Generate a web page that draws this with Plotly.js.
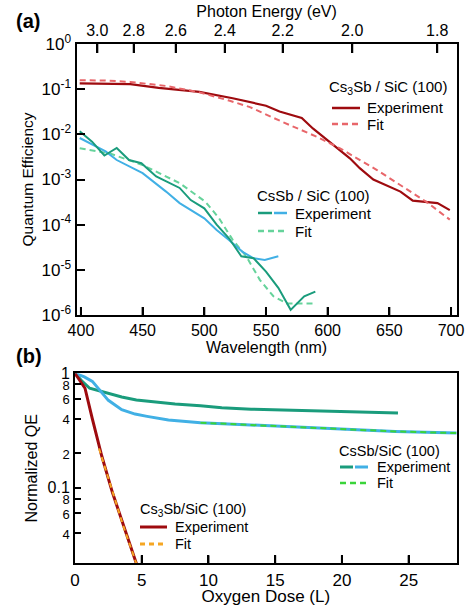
<!DOCTYPE html>
<html>
<head>
<meta charset="utf-8">
<script src="https://cdn.plot.ly/plotly-3.0.1.min.js"></script>
<style>html,body{margin:0;padding:0;background:#fff;}#chart{width:466px;height:606px;}</style>
</head>
<body>
<div id="chart"></div>
<script>
// ---------- Panel (a): QE vs wavelength ----------
const wlCs3SbExp = [399,440,463,496,523,550,561,579,588,604,618,626,637,659,669,689,699];
const qeCs3SbExp = [0.135,0.129,0.107,0.087,0.063,0.043,0.032,0.023,0.0135,0.0059,0.00295,0.00178,0.00100,0.00054,0.00034,0.00030,0.00021];
const wlCs3SbFit = [399,420,440,470,496,520,537,563,591,610,640,660,680,699];
const qeCs3SbFit = [0.158,0.155,0.145,0.117,0.085,0.056,0.040,0.019,0.0089,0.0049,0.00162,0.00071,0.00032,0.000129];

const wlCsSbExpA = [399,409,419,429,439,449,461,470,480,489,500,510,520,530,540,550,560,570,581,590];
const qeCsSbExpA = [0.0117,0.0069,0.0034,0.0050,0.0027,0.0023,0.00117,0.00087,0.00065,0.00035,0.00023,0.00010,0.000050,0.000020,0.000018,0.0000091,0.0000040,0.0000013,0.0000026,0.0000033];
const wlCsSbExpB = [399,420,429,450,469,480,500,510,520,531,540,549,560];
const qeCsSbExpB = [0.0083,0.0042,0.0027,0.00138,0.00054,0.00030,0.000138,0.000076,0.000046,0.000025,0.000018,0.0000166,0.000020];
const wlCsSbFit = [399,423,450,480,501,512,523,534,545,556,567,589];
const qeCsSbFit = [0.0049,0.0038,0.0021,0.00083,0.00032,0.000138,0.000046,0.000020,0.0000060,0.0000026,0.0000018,0.0000018];

const wlTicks = [400,450,500,550,600,650,700];
const energyTicks = [3.0,2.8,2.6,2.4,2.2,2.0,1.8];
const energyLabels = ['3.0','2.8','2.6','2.4','2.2','2.0','1.8'];
const qeTickVals = [1e-6,1e-5,1e-4,1e-3,1e-2,1e-1,1];
const qeTickText = ['10<sup>-6</sup>','10<sup>-5</sup>','10<sup>-4</sup>','10<sup>-3</sup>','10<sup>-2</sup>','10<sup>-1</sup>','10<sup>0</sup>'];

// ---------- Panel (b): normalized QE vs oxygen dose ----------
const doseCs3SbExp = [0,0.75,1.3,2.0,2.8,3.6,4.7];
const nqeCs3SbExp = [1,0.74,0.40,0.19,0.091,0.047,0.020];
const doseCs3SbFit = [1.8,2.8,3.6,4.7];
const nqeCs3SbFit = [0.22,0.091,0.047,0.020];

const doseCsSbA = [0,0.5,1.1,1.8,2.6,3.5,4.6,6,7.5,9.4,11,13.2,16,20,24.2];
const nqeCsSbA = [1,0.86,0.74,0.70,0.665,0.62,0.585,0.56,0.54,0.52,0.50,0.485,0.475,0.46,0.45];
const doseCsSbB = [0,0.7,1.3,2.0,2.5,3.5,4.5,5.4,7,9.4,13,17,20,24,28.6];
const nqeCsSbB = [1,0.93,0.85,0.68,0.58,0.48,0.44,0.42,0.39,0.37,0.355,0.34,0.325,0.31,0.30];
const doseCsSbFit = [9.4,13,17,20,24,28.6];
const nqeCsSbFit = [0.37,0.355,0.34,0.325,0.31,0.30];

const doseTicks = [0,5,10,15,20,25];
const nqeTickVals = [1,0.8,0.6,0.4,0.2,0.1,0.08,0.06,0.04];
const nqeTickText = ['1','<span style="font-size:13px">8</span>','<span style="font-size:13px">6</span>','<span style="font-size:13px">4</span>','<span style="font-size:13px">2</span>','0.1','<span style="font-size:13px">8</span>','<span style="font-size:13px">6</span>','<span style="font-size:13px">4</span>'];
const nqeMinor = [0.9,0.7,0.5,0.3,0.09,0.07,0.05,0.03];

// ---------- styles ----------
const C = {
  darkred:'#9e0b0f', salmon:'#e8666a', teal:'#1a9c7c', blue:'#41b0e5',
  lightgreen:'#66d39b', green:'#3ad43a', orange:'#f5a623'
};
const W = 466, H = 606;
const px = x => x / W, py = y => 1 - y / H;

const qeMinor = [];
for (let e = -6; e < 0; e++) for (let m = 2; m <= 9; m++) qeMinor.push(m * Math.pow(10, e));

const traces = [
  {x: wlCs3SbExp, y: qeCs3SbExp, xaxis:'x', yaxis:'y', mode:'lines', line:{color:C.darkred, width:2.2}},
  {x: wlCs3SbFit, y: qeCs3SbFit, xaxis:'x', yaxis:'y', mode:'lines', line:{color:C.salmon, width:2, dash:'6px,4px'}},
  {x: wlCsSbFit, y: qeCsSbFit, xaxis:'x', yaxis:'y', mode:'lines', line:{color:C.lightgreen, width:2, dash:'6px,4px'}},
  {x: wlCsSbExpB, y: qeCsSbExpB, xaxis:'x', yaxis:'y', mode:'lines', line:{color:C.blue, width:2}},
  {x: wlCsSbExpA, y: qeCsSbExpA, xaxis:'x', yaxis:'y', mode:'lines', line:{color:C.teal, width:2}},
  {x: [wlTicks[0]], y: [qeTickVals[3]], xaxis:'x2', yaxis:'y', mode:'markers', marker:{opacity:0}, hoverinfo:'skip'},

  {x: doseCsSbA, y: nqeCsSbA, xaxis:'x3', yaxis:'y3', mode:'lines', line:{color:C.teal, width:3}},
  {x: doseCsSbB, y: nqeCsSbB, xaxis:'x3', yaxis:'y3', mode:'lines', line:{color:C.blue, width:3}},
  {x: doseCsSbFit, y: nqeCsSbFit, xaxis:'x3', yaxis:'y3', mode:'lines', line:{color:C.green, width:2, dash:'6px,4px'}},
  {x: doseCs3SbExp, y: nqeCs3SbExp, xaxis:'x3', yaxis:'y3', mode:'lines', line:{color:C.darkred, width:3}},
  {x: doseCs3SbFit, y: nqeCs3SbFit, xaxis:'x3', yaxis:'y3', mode:'lines', line:{color:C.orange, width:2, dash:'5px,4px'}}
];

const axBase = {showgrid:false, zeroline:false, showline:true, linewidth:2, linecolor:'black',
  ticks:'inside', tickcolor:'black', tickwidth:2};

// plot-area sizes in px (for converting tick lengths into axis-domain fractions)
const aW = 456.7 - 76.5, aH = 315 - 44, bW = 456.7 - 75, bH = 563.3 - 373.3;
const xRangeA = [396.4, 704.6];
const yRangeB = [Math.log10(0.0218), 0];
const layout = {
  width: W, height: H,
  margin:{l:0, r:0, t:0, b:0},
  showlegend:false,
  font:{family:'Liberation Sans', color:'black', size:16},
  xaxis: Object.assign({}, axBase, {
    domain:[px(76.5), px(456.7)], anchor:'y', range:xRangeA,
    tickmode:'array', tickvals:wlTicks, ticklen:8, mirror:true,
    tickfont:{size:16}, title:{text:'Wavelength (nm)', font:{size:16}, standoff:4}
  }),
  xaxis2: Object.assign({}, axBase, {
    overlaying:'x', side:'top', anchor:'y', range:xRangeA,
    tickmode:'array', tickvals: energyTicks.map(e => 1239.84 / e), ticktext: energyLabels,
    ticklen:9, tickfont:{size:16}, title:{text:'Photon Energy (eV)', font:{size:16}, standoff:0}
  }),
  yaxis: Object.assign({}, axBase, {
    domain:[py(315), py(44)], anchor:'x', type:'log', range:[-6, 0],
    tickmode:'array', tickvals:qeTickVals, ticktext:qeTickText, ticklen:8, mirror:true,
    tickfont:{size:17},
    title:{text:'Quantum Efficiency', font:{size:15.5}, standoff:4}
  }),
  xaxis3: Object.assign({}, axBase, {
    domain:[px(75), px(456.7)], anchor:'y3', range:[0, 28.6],
    tickmode:'array', tickvals:doseTicks, ticklen:8, mirror:true,
    tickfont:{size:17}, title:{text:'Oxygen Dose (L)', font:{size:17}, standoff:1}
  }),
  yaxis3: Object.assign({}, axBase, {
    domain:[py(563.3), py(373.3)], anchor:'x3', type:'log', range:yRangeB,
    tickmode:'array', tickvals:nqeTickVals, ticktext:nqeTickText, ticklen:6, mirror:true,
    tickfont:{size:16},
    title:{text:'Normalized QE', font:{size:16}, standoff:6}
  }),
  annotations: [],
  shapes: []
};

// ---- inward tick marks, placed through the axes' own scales ----
function xTick(xref, yref, v, lenPx, hPx, top, w) {
  const f = lenPx / hPx;
  layout.shapes.push({type:'line', xref:xref, yref:yref + ' domain', x0:v, x1:v,
    y0: top ? 1 : 0, y1: top ? 1 - f : f, line:{color:'black', width:w}});
}
function yTickLog(xref, yref, v, lenPx, wPx, w) {
  const f = lenPx / wPx, lv = Math.log10(v);
  layout.shapes.push({type:'line', xref:xref + ' domain', yref:yref, x0:0, x1:f,
    y0:lv, y1:lv, line:{color:'black', width:w}});
}
wlTicks.forEach(v => xTick('x', 'y', v, 8, aH, false, 2));
energyTicks.forEach(e => xTick('x', 'y', 1239.84 / e, 9, aH, true, 2));
qeTickVals.slice(1, -1).forEach(v => yTickLog('x', 'y', v, 8, aW, 2));
qeMinor.forEach(v => yTickLog('x', 'y', v, 4.5, aW, 1.3));
doseTicks.slice(1).forEach(v => xTick('x3', 'y3', v, 8, bH, false, 2));
nqeTickVals.slice(1).forEach(v => yTickLog('x3', 'y3', v, 6, bW, 1.8));
nqeMinor.forEach(v => yTickLog('x3', 'y3', v, 4, bW, 1.3));

function txt(x, y, text, size, extra) {
  layout.annotations.push(Object.assign({xref:'paper', yref:'paper', x:px(x), y:py(y), text:text,
    showarrow:false, xanchor:'left', yanchor:'middle', borderpad:0, font:{size:size, color:'black'}}, extra || {}));
}
function seg(x0, x1, y, color, width, dash) {
  layout.shapes.push({type:'line', xref:'paper', yref:'paper', x0:px(x0), x1:px(x1), y0:py(y), y1:py(y),
    line:{color:color, width:width, dash:dash || 'solid'}});
}

txt(28, 21, '<b>(a)</b>', 20, {xanchor:'center'});
txt(29, 356, '<b>(b)</b>', 20, {xanchor:'center'});

txt(328, 87, 'Cs<sub>3</sub>Sb / SiC (100)', 15);
seg(332, 360, 108, C.darkred, 2.5);
txt(366, 108, 'Experiment', 15);
seg(332, 360, 124, C.salmon, 2.5, '6px,4px');
txt(366, 124, 'Fit', 15);

txt(256, 195, 'CsSb / SiC (100)', 15);
seg(258, 272, 213, C.teal, 2.5);
seg(274, 287, 213, C.blue, 2.5);
txt(294, 213, 'Experiment', 15);
seg(258, 287, 231, C.lightgreen, 2.5, '6px,4px');
txt(294, 231, 'Fit', 15);

txt(338, 451, 'CsSb/SiC (100)', 14.5);
seg(340, 353, 467, C.teal, 3);
seg(355, 368, 467, C.blue, 3);
txt(376, 467, 'Experiment', 14.5);
seg(340, 368, 483, C.green, 2.5, '6px,4px');
txt(376, 483, 'Fit', 14.5);

txt(139, 510, 'Cs<sub>3</sub>Sb/SiC (100)', 14.5);
seg(140, 167, 527, C.darkred, 3);
txt(174, 527, 'Experiment', 14.5);
seg(140, 167, 544, C.orange, 3, '5px,4px');
txt(174, 544, 'Fit', 14.5);

Plotly.newPlot('chart', traces, layout, {staticPlot:true, displayModeBar:false});
</script>
</body>
</html>
